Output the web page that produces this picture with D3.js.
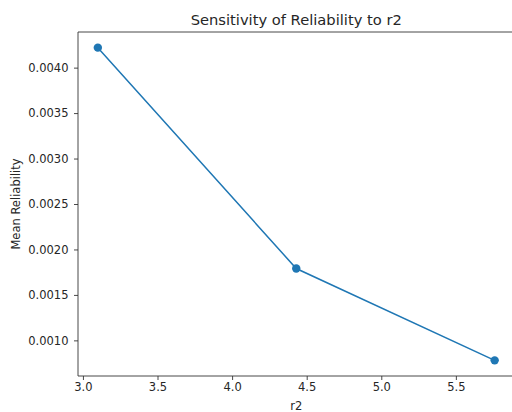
<!DOCTYPE html>
<html><head><meta charset="utf-8">
<script src="https://cdn.jsdelivr.net/npm/d3@7"></script>
<style>html,body{margin:0;padding:0;background:#fff;overflow:hidden}svg{display:block}text{font-family:"DejaVu Sans",sans-serif;fill:#262626}</style>
</head><body><svg id="c" width="512" height="412"></svg>
<script>
const r2Values = [3.10, 4.43, 5.76];
const meanReliability = [0.00422, 0.00179, 0.00078];
const xTicks = [3.0, 3.5, 4.0, 4.5, 5.0, 5.5];
const yTicks = [0.0010, 0.0015, 0.0020, 0.0025, 0.0030, 0.0035, 0.0040];
const title = "Sensitivity of Reliability to r2";
const xLabel = "r2";
const yLabel = "Mean Reliability";

const svg = d3.select("#c");
const L = 78, R = 514.5, T = 32, B = 376;
const xmin = d3.min(r2Values), xmax = d3.max(r2Values);
const ymin = d3.min(meanReliability), ymax = d3.max(meanReliability);
const mx = (xmax - xmin) * 0.05, my = (ymax - ymin) * 0.05;
const x = d3.scaleLinear().domain([xmin - mx, xmax + mx]).range([L, R]);
const y = d3.scaleLinear().domain([ymin - my, ymax + my]).range([B, T]);

const xAxis = svg.append("g").attr("transform", `translate(0,${B})`)
  .call(d3.axisBottom(x).tickValues(xTicks).tickFormat(d3.format(".1f")).tickSize(4).tickPadding(3));
const yAxis = svg.append("g").attr("transform", `translate(${L},0)`)
  .call(d3.axisLeft(y).tickValues(yTicks).tickFormat(d3.format(".4f")).tickSize(4).tickPadding(5.5));
[xAxis, yAxis].forEach(g => {
  g.select(".domain").remove();
  g.selectAll("line").attr("stroke", "#333").attr("stroke-width", 0.9);
  g.selectAll("text").style("font-size", "11.5px").attr("fill", "#262626").style("font-family", '"DejaVu Sans",sans-serif');
});
const spines = svg.append("g").attr("stroke", "#333").attr("stroke-width", 0.9);
spines.append("line").attr("x1", L).attr("x2", L).attr("y1", T).attr("y2", B);
spines.append("line").attr("x1", L).attr("x2", 520).attr("y1", T).attr("y2", T);
spines.append("line").attr("x1", L).attr("x2", 520).attr("y1", B).attr("y2", B);

const pts = r2Values.map((v, i) => [v, meanReliability[i]]);
svg.append("path").datum(pts)
  .attr("d", d3.line().x(d => x(d[0])).y(d => y(d[1])))
  .attr("fill", "none").attr("stroke", "#1f77b4").attr("stroke-width", 1.5);
svg.selectAll("circle.pt").data(pts).enter().append("circle")
  .attr("cx", d => x(d[0])).attr("cy", d => y(d[1])).attr("r", 4.2).attr("fill", "#1f77b4");

svg.append("text").attr("x", (L + R) / 2).attr("y", 24.5).attr("text-anchor", "middle")
  .style("font-size", "14.7px").text(title);
svg.append("text").attr("x", (L + R) / 2).attr("y", 409.5).attr("text-anchor", "middle")
  .style("font-size", "11.5px").text(xLabel);
svg.append("text").attr("transform", `translate(20,${(T + B) / 2}) rotate(-90)`).attr("text-anchor", "middle")
  .style("font-size", "11.5px").text(yLabel);
</script></body></html>
